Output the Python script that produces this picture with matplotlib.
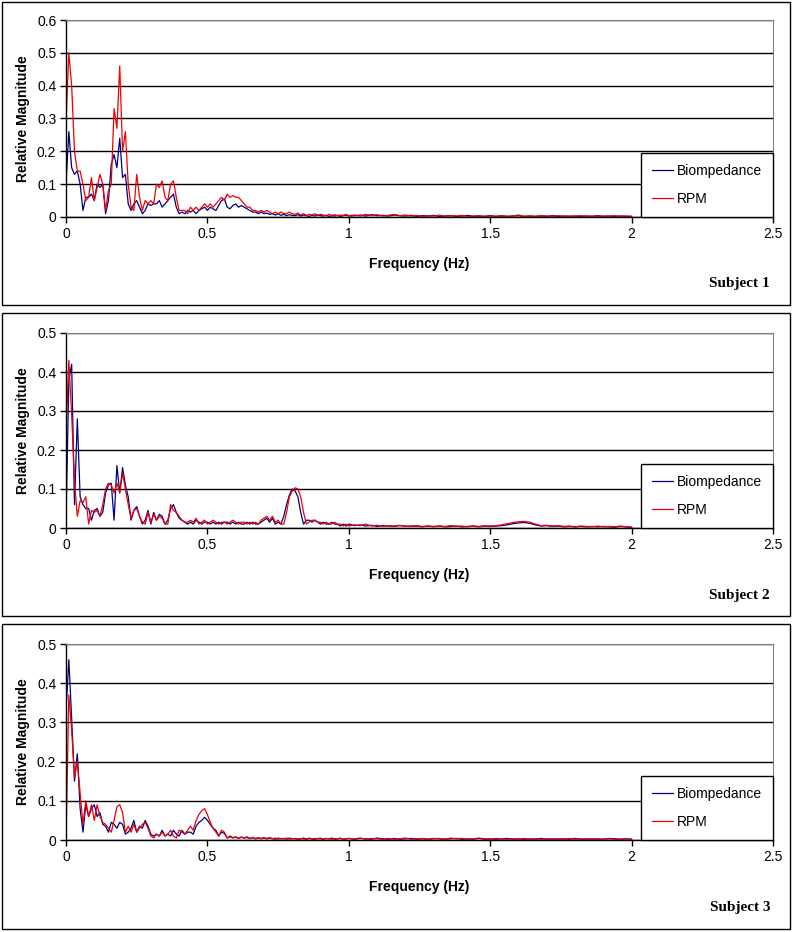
import numpy as np
import matplotlib.pyplot as plt
from matplotlib.patches import Rectangle

# frequency bins: 0.01 Hz up to 1 Hz, then 0.02 Hz up to 2 Hz
freq = np.concatenate([np.round(np.arange(0, 101) * 0.01, 2),
                       np.round(1.0 + np.arange(1, 51) * 0.02, 2)])

# ---- Subject 1 ----
bio1_low = [0.10, 0.26, 0.15, 0.13, 0.14, 0.10, 0.02, 0.06, 0.06, 0.07,
            0.05, 0.10, 0.09, 0.10, 0.01, 0.05, 0.16, 0.19, 0.15, 0.24,
            0.12, 0.13, 0.04, 0.02, 0.04, 0.05, 0.03, 0.01, 0.02, 0.04,
            0.035, 0.04, 0.04, 0.05, 0.03, 0.04, 0.05, 0.06, 0.07, 0.03,
            0.01, 0.015, 0.01, 0.02, 0.015, 0.02, 0.01, 0.02, 0.025, 0.03,
            0.02]
bio1_mid = [0.03, 0.025, 0.02, 0.035, 0.05, 0.055, 0.03, 0.025, 0.035, 0.04,
            0.03, 0.035, 0.03, 0.025, 0.02, 0.015, 0.015, 0.01, 0.015, 0.01,
            0.012, 0.008, 0.01, 0.006, 0.01, 0.005, 0.008, 0.004, 0.007, 0.005,
            0.004, 0.007, 0.003, 0.006, 0.004, 0.002, 0.005, 0.003, 0.006, 0.004,
            0.003, 0.005, 0.002, 0.004, 0.003, 0.005, 0.002, 0.004, 0.006, 0.003]
bio1_tail = [0.004, 0.006, 0.003, 0.007, 0.004, 0.005, 0.003, 0.006, 0.004, 0.003,
             0.005, 0.002, 0.004, 0.003, 0.005, 0.002, 0.003, 0.004, 0.002, 0.003,
             0.005, 0.002, 0.003, 0.002, 0.004, 0.002, 0.003, 0.002, 0.003, 0.004,
             0.002, 0.003, 0.002, 0.003, 0.002, 0.004, 0.002, 0.003, 0.002, 0.003,
             0.002, 0.003, 0.002, 0.004, 0.002, 0.003, 0.002, 0.003, 0.002, 0.002]
rpm1_low = [0.29, 0.50, 0.40, 0.20, 0.14, 0.14, 0.10, 0.05, 0.06, 0.12,
            0.05, 0.09, 0.13, 0.10, 0.02, 0.08, 0.10, 0.33, 0.27, 0.46,
            0.20, 0.26, 0.10, 0.03, 0.02, 0.13, 0.06, 0.02, 0.05, 0.04,
            0.05, 0.04, 0.10, 0.09, 0.11, 0.06, 0.05, 0.10, 0.11, 0.06,
            0.02, 0.02, 0.02, 0.01, 0.03, 0.02, 0.03, 0.02, 0.03, 0.04,
            0.03]
rpm1_mid = [0.04, 0.03, 0.04, 0.05, 0.06, 0.05, 0.07, 0.06, 0.065, 0.06,
            0.06, 0.05, 0.04, 0.03, 0.03, 0.02, 0.02, 0.015, 0.02, 0.015,
            0.02, 0.015, 0.01, 0.015, 0.01, 0.015, 0.01, 0.01, 0.015, 0.01,
            0.008, 0.012, 0.006, 0.01, 0.005, 0.008, 0.006, 0.01, 0.005, 0.008,
            0.006, 0.004, 0.008, 0.005, 0.007, 0.004, 0.006, 0.005, 0.008, 0.004]
rpm1_tail = [0.006, 0.003, 0.008, 0.004, 0.007, 0.003, 0.005, 0.008, 0.004, 0.006,
             0.003, 0.005, 0.002, 0.004, 0.003, 0.006, 0.002, 0.004, 0.003, 0.005,
             0.002, 0.003, 0.004, 0.002, 0.003, 0.002, 0.004, 0.002, 0.003, 0.006,
             0.002, 0.003, 0.002, 0.004, 0.003, 0.002, 0.004, 0.002, 0.003, 0.002,
             0.004, 0.002, 0.003, 0.002, 0.003, 0.002, 0.004, 0.002, 0.003, 0.002]

# ---- Subject 2 ----
bio2_low = [0.02, 0.38, 0.42, 0.06, 0.28, 0.08, 0.06, 0.05, 0.05, 0.02,
            0.045, 0.05, 0.03, 0.04, 0.09, 0.11, 0.115, 0.02, 0.16, 0.09,
            0.155, 0.11, 0.08, 0.02, 0.045, 0.055, 0.03, 0.01, 0.02, 0.045,
            0.01, 0.04, 0.02, 0.035, 0.03, 0.01, 0.02, 0.05, 0.06, 0.04,
            0.025, 0.02, 0.015, 0.01, 0.015, 0.01, 0.02, 0.015, 0.01, 0.015,
            0.015]
bio2_mid = [0.01, 0.015, 0.01, 0.015, 0.01, 0.015, 0.015, 0.01, 0.015, 0.01,
            0.015, 0.01, 0.01, 0.015, 0.01, 0.015, 0.01, 0.01, 0.015, 0.02,
            0.025, 0.015, 0.025, 0.01, 0.015, 0.01, 0.03, 0.06, 0.085, 0.10,
            0.095, 0.08, 0.04, 0.01, 0.02, 0.02, 0.015, 0.02, 0.015, 0.01,
            0.015, 0.01, 0.01, 0.015, 0.01, 0.01, 0.005, 0.01, 0.005, 0.01]
bio2_tail = [0.006, 0.008, 0.005, 0.007, 0.004, 0.006, 0.005, 0.004, 0.006, 0.005,
             0.004, 0.005, 0.003, 0.005, 0.004, 0.005, 0.003, 0.004, 0.005, 0.003,
             0.004, 0.005, 0.003, 0.005, 0.004, 0.005, 0.006, 0.008, 0.011, 0.013,
             0.014, 0.012, 0.008, 0.005, 0.006, 0.004, 0.005, 0.003, 0.004, 0.003,
             0.004, 0.003, 0.004, 0.003, 0.004, 0.003, 0.002, 0.004, 0.003, 0.002]
rpm2_low = [0.25, 0.43, 0.29, 0.12, 0.03, 0.07, 0.065, 0.08, 0.01, 0.045,
            0.04, 0.045, 0.03, 0.06, 0.10, 0.115, 0.11, 0.09, 0.115, 0.09,
            0.14, 0.10, 0.06, 0.025, 0.045, 0.05, 0.03, 0.015, 0.01, 0.04,
            0.015, 0.035, 0.02, 0.03, 0.025, 0.01, 0.01, 0.06, 0.045, 0.04,
            0.03, 0.02, 0.015, 0.015, 0.02, 0.015, 0.025, 0.01, 0.015, 0.02,
            0.01]
rpm2_mid = [0.015, 0.02, 0.015, 0.01, 0.015, 0.015, 0.01, 0.015, 0.02, 0.015,
            0.01, 0.015, 0.015, 0.01, 0.015, 0.01, 0.015, 0.01, 0.02, 0.025,
            0.03, 0.02, 0.03, 0.015, 0.02, 0.01, 0.01, 0.04, 0.08, 0.095,
            0.103, 0.10, 0.08, 0.04, 0.01, 0.015, 0.02, 0.02, 0.015, 0.015,
            0.01, 0.015, 0.01, 0.01, 0.015, 0.01, 0.01, 0.005, 0.01, 0.005]
rpm2_tail = [0.008, 0.006, 0.01, 0.005, 0.007, 0.004, 0.006, 0.005, 0.007, 0.004,
             0.005, 0.006, 0.004, 0.005, 0.003, 0.005, 0.004, 0.006, 0.004, 0.005,
             0.003, 0.005, 0.004, 0.006, 0.005, 0.006, 0.008, 0.011, 0.014, 0.016,
             0.017, 0.015, 0.01, 0.006, 0.007, 0.005, 0.006, 0.004, 0.005, 0.003,
             0.005, 0.004, 0.003, 0.005, 0.003, 0.004, 0.003, 0.005, 0.003, 0.002]

# ---- Subject 3 ----
bio3_low = [0.33, 0.46, 0.31, 0.15, 0.22, 0.08, 0.02, 0.09, 0.06, 0.08,
            0.09, 0.06, 0.07, 0.04, 0.035, 0.02, 0.045, 0.04, 0.03, 0.045,
            0.04, 0.015, 0.02, 0.03, 0.05, 0.02, 0.035, 0.03, 0.05, 0.035,
            0.015, 0.01, 0.015, 0.01, 0.025, 0.01, 0.015, 0.01, 0.025, 0.015,
            0.01, 0.025, 0.015, 0.02, 0.02, 0.015, 0.035, 0.045, 0.05, 0.058,
            0.05]
bio3_mid = [0.04, 0.03, 0.025, 0.01, 0.02, 0.017, 0.005, 0.01, 0.006, 0.008,
            0.004, 0.007, 0.005, 0.008, 0.004, 0.006, 0.003, 0.005, 0.004, 0.006,
            0.003, 0.005, 0.004, 0.002, 0.005, 0.003, 0.004, 0.002, 0.005, 0.003,
            0.004, 0.002, 0.003, 0.005, 0.002, 0.004, 0.003, 0.002, 0.004, 0.003,
            0.002, 0.004, 0.003, 0.005, 0.002, 0.003, 0.004, 0.002, 0.003, 0.004]
bio3_tail = [0.002, 0.004, 0.003, 0.002, 0.005, 0.003, 0.002, 0.004, 0.002, 0.003,
             0.004, 0.002, 0.003, 0.002, 0.004, 0.003, 0.002, 0.003, 0.004, 0.002,
             0.003, 0.002, 0.004, 0.002, 0.003, 0.002, 0.003, 0.004, 0.002, 0.003,
             0.002, 0.003, 0.002, 0.004, 0.002, 0.003, 0.002, 0.003, 0.002, 0.004,
             0.002, 0.003, 0.002, 0.003, 0.002, 0.004, 0.003, 0.002, 0.003, 0.002]
rpm3_low = [0.0, 0.37, 0.28, 0.16, 0.20, 0.12, 0.04, 0.10, 0.06, 0.09,
            0.05, 0.09, 0.06, 0.045, 0.04, 0.03, 0.02, 0.05, 0.085, 0.09,
            0.07, 0.02, 0.035, 0.02, 0.04, 0.02, 0.03, 0.04, 0.045, 0.03,
            0.01, 0.005, 0.015, 0.01, 0.02, 0.01, 0.015, 0.025, 0.01, 0.005,
            0.025, 0.02, 0.015, 0.025, 0.035, 0.025, 0.05, 0.065, 0.075, 0.08,
            0.065]
rpm3_mid = [0.045, 0.03, 0.02, 0.01, 0.025, 0.02, 0.005, 0.008, 0.005, 0.007,
            0.004, 0.008, 0.005, 0.006, 0.003, 0.007, 0.004, 0.006, 0.003, 0.005,
            0.004, 0.006, 0.003, 0.005, 0.002, 0.004, 0.003, 0.005, 0.002, 0.004,
            0.003, 0.002, 0.004, 0.002, 0.003, 0.005, 0.002, 0.004, 0.003, 0.005,
            0.002, 0.004, 0.003, 0.002, 0.004, 0.003, 0.005, 0.002, 0.003, 0.004]
rpm3_tail = [0.003, 0.005, 0.002, 0.004, 0.003, 0.002, 0.004, 0.002, 0.003, 0.005,
             0.002, 0.003, 0.004, 0.002, 0.003, 0.004, 0.002, 0.005, 0.003, 0.004,
             0.002, 0.003, 0.005, 0.003, 0.002, 0.004, 0.003, 0.002, 0.003, 0.002,
             0.004, 0.002, 0.003, 0.002, 0.003, 0.002, 0.003, 0.002, 0.004, 0.002,
             0.003, 0.002, 0.003, 0.002, 0.002, 0.003, 0.002, 0.002, 0.003, 0.002]

subjects = ['Subject 1', 'Subject 2', 'Subject 3']
bio = [bio1_low + bio1_mid + bio1_tail,
       bio2_low + bio2_mid + bio2_tail,
       bio3_low + bio3_mid + bio3_tail]
rpm = [rpm1_low + rpm1_mid + rpm1_tail,
       rpm2_low + rpm2_mid + rpm2_tail,
       rpm3_low + rpm3_mid + rpm3_tail]
y_max = [0.6, 0.5, 0.5]
x_ticks = [0, 0.5, 1, 1.5, 2, 2.5]

plt.rcParams['font.family'] = ['Liberation Sans', 'DejaVu Sans']

W, H = 793, 932
fig = plt.figure(figsize=(W / 100, H / 100), dpi=100)
fig.patch.set_facecolor('white')

# panel frames and axes boxes, in pixels (top, bottom)
frames = [(2, 305), (313, 616), (624, 929)]
boxes = [(20, 217), (333, 528), (644, 840)]
ax_left, ax_right = 66, 773

for i in range(3):
    ft, fb = frames[i]
    fig.patches.append(Rectangle((2 / W, 1 - fb / H), 788 / W, (fb - ft) / H,
                                 transform=fig.transFigure, fill=False,
                                 edgecolor='black', linewidth=1.0))
    bt, bb = boxes[i]
    ax = fig.add_axes([ax_left / W, 1 - bb / H, (ax_right - ax_left) / W, (bb - bt) / H])
    ax.plot(freq, bio[i], color='#000080', linewidth=0.9, label='Biompedance')
    ax.plot(freq, rpm[i], color='#ee0000', linewidth=0.9, label='RPM')

    ax.set_xlim(0, 2.5)
    ax.set_ylim(0, y_max[i])
    ax.set_xticks(x_ticks)
    ax.set_xticklabels(['0', '0.5', '1', '1.5', '2', '2.5'])
    ax.set_yticks(np.round(np.arange(0, y_max[i] + 0.01, 0.1), 1))
    ax.set_yticklabels(['0'] + ['%.1f' % v for v in np.arange(0.1, y_max[i] + 0.01, 0.1)])
    ax.yaxis.grid(True, color='black', linewidth=1.0)
    ax.set_axisbelow(True)
    ax.tick_params(axis='both', direction='out', length=4, width=1,
                   labelsize=10, colors='black', pad=3)
    for s in ['top', 'right']:
        ax.spines[s].set_color('#808080')
    for s in ['left', 'bottom']:
        ax.spines[s].set_color('black')
        ax.spines[s].set_linewidth(1.0)

    ax.set_ylabel('Relative Magnitude', fontsize=10, fontweight='bold', labelpad=5)
    ax.set_xlabel('Frequency (Hz)', fontsize=10, fontweight='bold', labelpad=12)

    leg = ax.legend(loc='lower right', bbox_to_anchor=(1.0, 0.0), borderaxespad=0,
                    frameon=True, fancybox=False, framealpha=1, edgecolor='black',
                    fontsize=10, handlelength=1.5, handletextpad=0.3,
                    labelspacing=1.0, borderpad=0.8)
    leg.get_frame().set_linewidth(1.0)

    fig.text(770 / W, 1 - (fb - 21) / H, subjects[i], ha='right', va='center',
             fontsize=11, fontweight='bold', family='Liberation Serif')

fig.savefig('out.png', dpi=100)
